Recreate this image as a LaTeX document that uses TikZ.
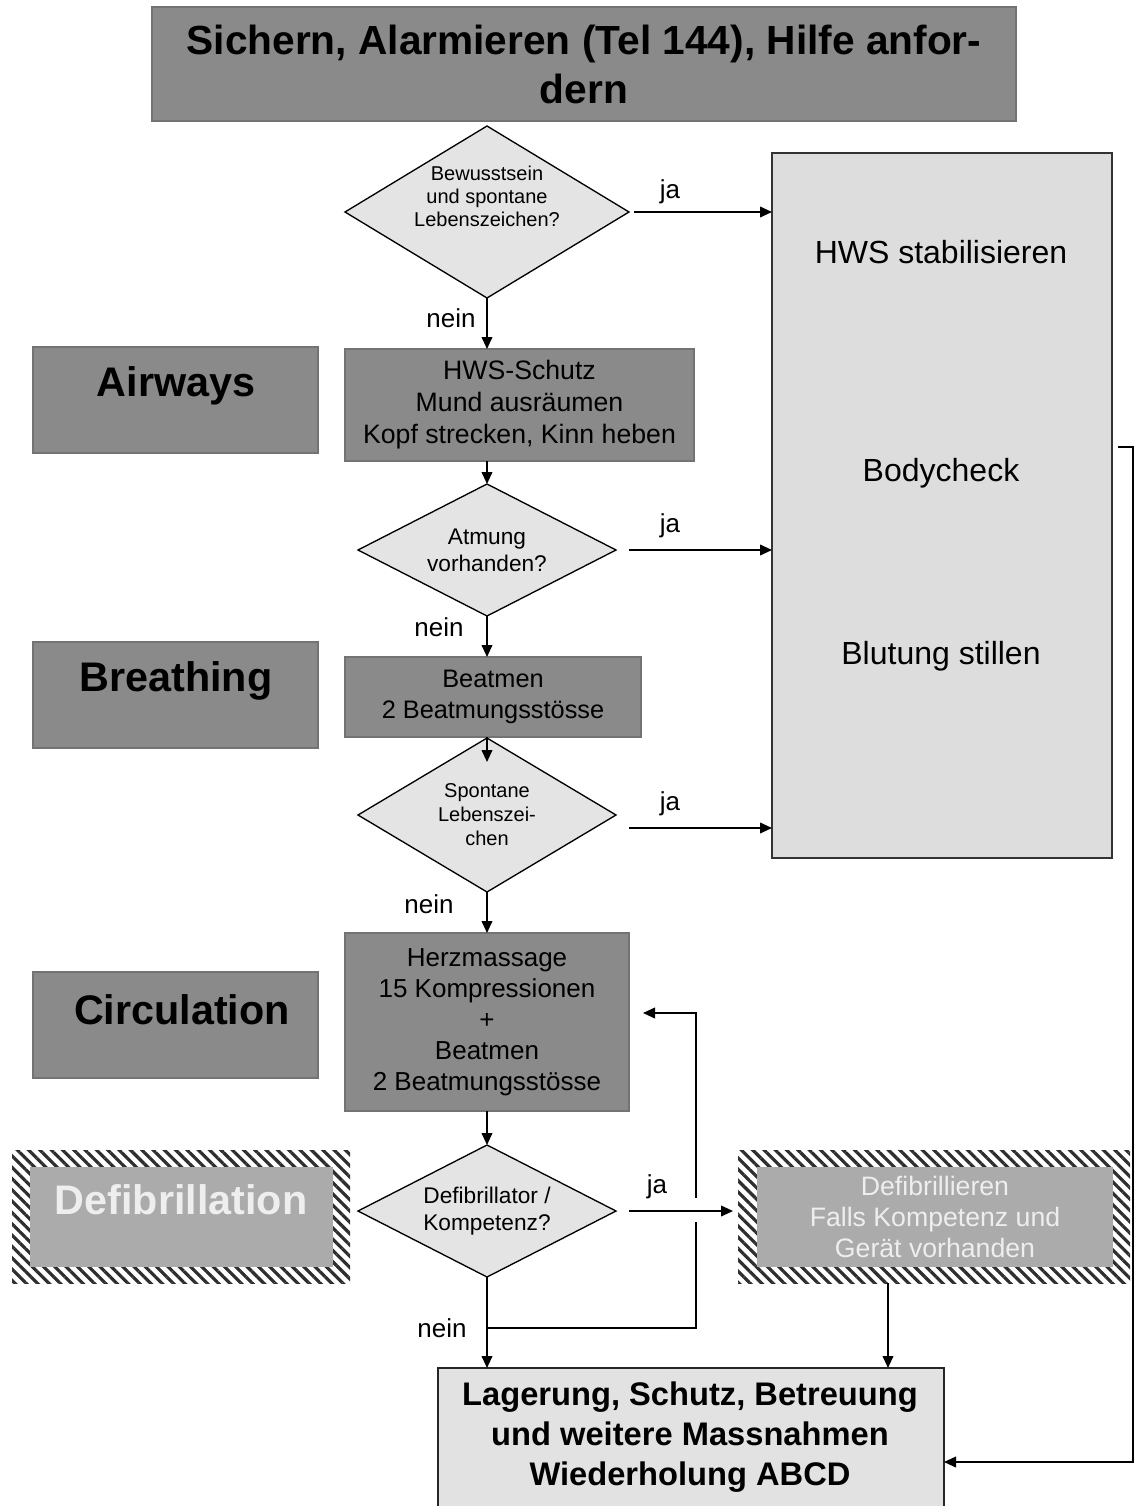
\documentclass[tikz,border=0pt]{standalone}
\usepackage{fontspec}
\setmainfont{Liberation Sans}
\usetikzlibrary{shapes.geometric,arrows.meta,patterns.meta,calc}
\definecolor{boxgray}{HTML}{8A8A8A}
\definecolor{diafill}{HTML}{E4E4E4}
\definecolor{rightfill}{HTML}{DDDDDD}
\definecolor{finalfill}{HTML}{E2E2E2}
\definecolor{defifill}{HTML}{ABABAB}
\definecolor{defitext}{HTML}{EEEEEE}
\definecolor{hatchcol}{HTML}{2E2E2E}
\begin{document}
\begin{tikzpicture}[x=0.75pt,y=-0.75pt,
  darkbox/.style={rectangle, fill=boxgray, draw=black!55, line width=0.8pt, inner sep=0pt, outer sep=0pt, align=center},
  lightbox/.style={rectangle, fill=rightfill, draw=black!80, line width=1.2pt, inner sep=0pt, outer sep=0pt},
  finalbox/.style={rectangle, fill=finalfill, draw=black!85, line width=1.4pt, inner sep=0pt, outer sep=0pt},
  hatchbox/.style={rectangle, pattern={Lines[angle=-45,distance=6pt,line width=2.4pt]}, pattern color=hatchcol, inner sep=0pt, outer sep=0pt},
  defibox/.style={rectangle, fill=defifill, draw=none, inner sep=0pt, outer sep=0pt},
  dec/.style={diamond, draw=black, line width=1pt, fill=diafill, inner sep=0pt, outer sep=0pt, align=center},
  abc/.style={font=\bfseries\fontsize{31}{36}\selectfont, inner sep=0pt},
  lbl/.style={font=\fontsize{19.5}{22}\selectfont, inner sep=0pt},
  rtext/.style={font=\fontsize{24}{28}\selectfont, inner sep=0pt},
  arr/.style={-{Triangle[length=9pt,width=8pt]}, line width=1.3pt},
  ln/.style={line width=1.3pt}
]
\useasboundingbox (0,0) rectangle (1135,1506);

% title
\node[darkbox, minimum width=648pt, minimum height=85.5pt, font=\bfseries\fontsize{30.5}{36.75}\selectfont] (title) at (584,64)
  {Sichern, Alarmieren (Tel 144), Hilfe anfor-\\dern};

% right big box
\node[lightbox, minimum width=255pt, minimum height=528.75pt] (rbox) at (942,505.5) {};
\node[rtext] (t1) at (941,252) {HWS stabilisieren};
\node[rtext] (t2) at (941,473) {Bodycheck};
\node[rtext] (t3) at (941,656) {Blutung stillen};

% diamonds
\node[dec, aspect=1.65, minimum width=213pt, minimum height=129pt] (d1) at (487,212) {};
\node[align=center, inner sep=0pt, font=\fontsize{15}{17.25}\selectfont] (d1txt) at (487,196)
  {Bewusstsein\\und spontane\\Lebenszeichen?};
\node[dec, aspect=1.95, minimum width=193.5pt, minimum height=99pt, font=\fontsize{17}{20}\selectfont] (d2) at (487,550)
  {Atmung\\vorhanden?};
\node[dec, aspect=1.675, minimum width=193.5pt, minimum height=115.5pt, font=\fontsize{15}{18}\selectfont] (d3) at (487,815)
  {Spontane\\Lebenszei-\\chen};
\node[dec, aspect=1.95, minimum width=193.5pt, minimum height=99pt, font=\fontsize{17}{20}\selectfont] (d4) at (487,1211)
  {Defibrillator /\\Kompetenz?};

% ABC boxes
\node[darkbox, minimum width=213.75pt, minimum height=79.5pt] (airbox) at (175.5,400) {};
\node[abc] (airtxt) at (176,386) {Airways};
\node[darkbox, minimum width=213.75pt, minimum height=79.5pt] (brebox) at (175.5,695) {};
\node[abc] (bretxt) at (176,681) {Breathing};
\node[darkbox, minimum width=213.75pt, minimum height=79.5pt] (cirbox) at (175.5,1025) {};
\node[abc] (cirtxt) at (182,1010) {Circulation};

% action boxes
\node[darkbox, minimum width=261.75pt, minimum height=84pt, font=\fontsize{20}{24}\selectfont] (hws) at (519.5,405)
  {HWS-Schutz\\Mund ausräumen\\Kopf strecken, Kinn heben};
\node[darkbox, minimum width=222pt, minimum height=60pt, font=\fontsize{19}{23.25}\selectfont] (beat) at (493,697)
  {Beatmen\\2 Beatmungsstösse};
\node[darkbox, minimum width=213pt, minimum height=133.5pt, font=\fontsize{19.5}{23.25}\selectfont] (herz) at (487,1022)
  {Herzmassage\\15 Kompressionen\\+\\Beatmen\\2 Beatmungsstösse};

% defibrillation (left)
\node[hatchbox, minimum width=253.5pt, minimum height=99.75pt] (defl) at (181,1216.5) {};
\node[defibox, minimum width=227.25pt, minimum height=75pt] (defli) at (181.5,1217) {};
\node[abc, text=defitext] (defltxt) at (181,1200) {Defibrillation};

% defibrillieren (right)
\node[hatchbox, minimum width=294pt, minimum height=99.75pt] (defr) at (934,1216.5) {};
\node[defibox, minimum width=267pt, minimum height=75pt, text=defitext, align=center, font=\fontsize{20}{23.25}\selectfont] (defri) at (935,1217)
  {Defibrillieren\\Falls Kompetenz und\\Gerät vorhanden};

% final box
\node[finalbox, minimum width=379.5pt, minimum height=114pt] (final) at (691,1444) {};
\node[align=center, inner sep=0pt, font=\bfseries\fontsize{24.5}{30}\selectfont] (finaltxt) at (690,1437)
  {Lagerung, Schutz, Betreuung\\und weitere Massnahmen\\Wiederholung ABCD};

% labels
\node[lbl] (ja1) at (670,192) {ja};
\node[lbl] (ja2) at (670,526) {ja};
\node[lbl] (ja3) at (670,804) {ja};
\node[lbl] (ja4) at (657,1187) {ja};
\node[lbl] (n1) at (451,318) {nein};
\node[lbl] (n2) at (439,627) {nein};
\node[lbl] (n3) at (429,904) {nein};
\node[lbl] (n4) at (442,1328) {nein};

% connectors: main column
\draw[arr] (d1.south) -- (d1.south |- hws.north);
\draw[arr] (d2.north |- hws.south) -- (d2.north);
\draw[arr] (d2.south) -- (d2.south |- beat.north);
\coordinate (b3) at (487,762);
\draw[arr] (b3 |- beat.south) -- (b3);
\draw[arr] (d3.south) -- (herz.north);
\draw[arr] (herz.south) -- (d4.north);
\draw[arr] (d4.south) -- (d4.south |- final.north);

% ja arrows
\draw[arr] ([xshift=3.75pt]d1.east) -- (d1.east -| rbox.west);
\draw[arr] ([xshift=9.75pt]d2.east) -- (d2.east -| rbox.west);
\coordinate (d3e) at ([xshift=9.75pt,yshift=-9.75pt]d3.east);
\draw[arr] (d3e) -- (d3e -| rbox.west);
\draw[arr] ([xshift=9.75pt]d4.east) -- ([xshift=-3.75pt]d4.east -| defr.west);

% loop back to Herzmassage
\coordinate (j) at (487,1328);
\coordinate (c1) at (696,1328);
\coordinate (g1) at (696,1222);
\coordinate (g2) at (696,1198);
\coordinate (c2) at (696,1013);
\draw[ln] (j) -- (c1) -- (g1);
\draw[arr] (g2) -- (c2) -- ([xshift=10.5pt]herz.east |- c2);

% defibrillieren to final
\coordinate (dd) at (888,1283);
\draw[arr] (dd) -- (dd |- final.north);

% right return connector
\coordinate (r0) at (1118,447);
\coordinate (r1) at (1133,447);
\coordinate (r2) at (1133,1462);
\draw[arr] (r0) -- (r1) -- (r2) -- (r2 -| final.east);
\end{tikzpicture}
\end{document}
